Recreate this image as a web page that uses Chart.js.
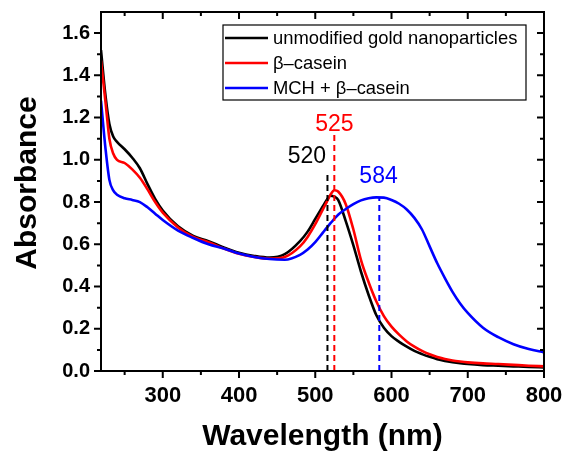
<!DOCTYPE html>
<html>
<head>
<meta charset="utf-8">
<script src="https://cdn.jsdelivr.net/npm/chart.js@4"></script>
<style>
  html, body { margin: 0; padding: 0; background: #fff; }
</style>
</head>
<body>
<canvas id="chart" width="563" height="455"></canvas>
<script>
// UV-vis spectra
const wavelength = [219, 225, 230, 235, 240, 250, 260, 270, 280, 290, 300, 320, 340, 360, 380, 400, 420, 440, 460, 480, 490, 500, 510, 515, 520, 525, 530, 540, 550, 560, 570, 580, 590, 600, 610, 620, 630, 640, 650, 660, 670, 680, 690, 700, 720, 740, 760, 780, 800];
const unmodified = [1.52, 1.30, 1.17, 1.11, 1.085, 1.05, 1.01, 0.96, 0.885, 0.815, 0.76, 0.685, 0.64, 0.615, 0.585, 0.56, 0.545, 0.537, 0.553, 0.615, 0.66, 0.72, 0.78, 0.81, 0.83, 0.826, 0.81, 0.71, 0.595, 0.47, 0.36, 0.265, 0.205, 0.165, 0.138, 0.115, 0.095, 0.08, 0.067, 0.056, 0.048, 0.042, 0.037, 0.033, 0.028, 0.025, 0.022, 0.019, 0.017];
const casein = [1.47, 1.27, 1.10, 1.03, 1.00, 0.985, 0.955, 0.915, 0.86, 0.80, 0.75, 0.68, 0.635, 0.61, 0.58, 0.555, 0.54, 0.532, 0.54, 0.59, 0.635, 0.695, 0.765, 0.80, 0.835, 0.856, 0.85, 0.79, 0.67, 0.525, 0.42, 0.33, 0.26, 0.21, 0.172, 0.14, 0.115, 0.095, 0.079, 0.066, 0.057, 0.05, 0.045, 0.041, 0.036, 0.033, 0.029, 0.025, 0.022];
const mchCasein = [1.28, 1.05, 0.905, 0.855, 0.835, 0.818, 0.81, 0.80, 0.775, 0.745, 0.715, 0.665, 0.63, 0.60, 0.58, 0.556, 0.54, 0.53, 0.527, 0.55, 0.575, 0.61, 0.655, 0.678, 0.70, 0.72, 0.74, 0.767, 0.79, 0.808, 0.818, 0.822, 0.821, 0.81, 0.792, 0.765, 0.725, 0.67, 0.59, 0.51, 0.44, 0.375, 0.32, 0.275, 0.205, 0.16, 0.127, 0.104, 0.088];

const seriesNames = ['unmodified gold nanoparticles', 'β–casein', 'MCH + β–casein'];
const seriesColors = ['#000000', '#ff0000', '#0000ff'];

// peak markers (dashed lines) and their labels
const peakWl = [516, 525, 584];
const peakTop = [0.945, 1.12, 0.82];
const peakText = ['520', '525', '584'];
const peakTextWl = [489, 525, 583];
const peakTextY = [1.015, 1.165, 0.92];

const xTicks = [300, 400, 500, 600, 700, 800];
const yTicks = [0, 0.2, 0.4, 0.6, 0.8, 1.0, 1.2, 1.4, 1.6];

const FONT = '"Liberation Sans", Arial, sans-serif';

const toPoints = ys => wavelength.map((w, i) => ({ x: w, y: ys[i] }));

const curves = [unmodified, casein, mchCasein].map((ys, i) => ({
  label: seriesNames[i],
  data: toPoints(ys),
  borderColor: seriesColors[i],
  borderWidth: 2.6,
  pointRadius: 0,
  cubicInterpolationMode: 'monotone',
  order: 3 - i + 1
}));

const peaks = peakWl.map((w, i) => ({
  label: 'peak ' + peakText[i],
  data: [{ x: w, y: 0 }, { x: w, y: peakTop[i] }],
  borderColor: seriesColors[i],
  borderWidth: 2,
  borderDash: [6, 4],
  pointRadius: 0,
  order: 0
}));

const decorations = {
  id: 'decorations',
  afterDatasetsDraw(chart) {
    const { ctx, chartArea: a, scales: { x, y } } = chart;
    ctx.save();
    ctx.strokeStyle = '#000';
    ctx.lineWidth = 2;
    ctx.strokeRect(a.left, a.top, a.right - a.left, a.bottom - a.top);

    // ticks: outside on left/bottom, inside on top/right
    ctx.beginPath();
    for (let v = 250; v <= 800; v += 50) {
      const px = x.getPixelForValue(v);
      const len = v % 100 === 0 ? 7 : 4;
      ctx.moveTo(px, a.bottom); ctx.lineTo(px, a.bottom + len);
      ctx.moveTo(px, a.top); ctx.lineTo(px, a.top + len);
    }
    for (let i = 0; i <= 16; i++) {
      const py = y.getPixelForValue(i / 10);
      const len = i % 2 === 0 ? 7 : 4;
      ctx.moveTo(a.left, py); ctx.lineTo(a.left - len, py);
      ctx.moveTo(a.right, py); ctx.lineTo(a.right - len, py);
    }
    ctx.stroke();

    // peak labels
    ctx.font = '23px ' + FONT;
    ctx.textAlign = 'center';
    ctx.textBaseline = 'middle';
    peakText.forEach((t, i) => {
      ctx.fillStyle = seriesColors[i];
      ctx.fillText(t, x.getPixelForValue(peakTextWl[i]), y.getPixelForValue(peakTextY[i]));
    });

    // legend box
    const lx = 223, ly = 25, lw = 303, lh = 75;
    ctx.fillStyle = '#fff';
    ctx.fillRect(lx, ly, lw, lh);
    ctx.lineWidth = 1.2;
    ctx.strokeStyle = '#000';
    ctx.strokeRect(lx, ly, lw, lh);
    ctx.font = '18.4px ' + FONT;
    ctx.textAlign = 'left';
    seriesNames.forEach((n, i) => {
      const ry = ly + 13 + i * 25;
      ctx.strokeStyle = seriesColors[i];
      ctx.lineWidth = 2.6;
      ctx.beginPath();
      ctx.moveTo(lx + 2, ry); ctx.lineTo(lx + 45, ry);
      ctx.stroke();
      ctx.fillStyle = '#000';
      ctx.fillText(n, lx + 50, ry + 1);
    });

    // y axis title
    ctx.translate(28, 183);
    ctx.rotate(-Math.PI / 2);
    ctx.font = 'bold 30px ' + FONT;
    ctx.textAlign = 'center';
    ctx.fillStyle = '#000';
    ctx.fillText('Absorbance', 0, 0);
    ctx.restore();
  }
};

new Chart(document.getElementById('chart').getContext('2d'), {
  type: 'line',
  data: { datasets: [...peaks, ...curves] },
  options: {
    responsive: false,
    animation: false,
    layout: { padding: { top: 12, right: 19, left: 0, bottom: 0 } },
    plugins: { legend: { display: false }, tooltip: { enabled: false } },
    scales: {
      x: {
        type: 'linear',
        min: 219,
        max: 800,
        grid: { display: false, drawTicks: false },
        border: { display: false },
        afterBuildTicks: s => { s.ticks = xTicks.map(v => ({ value: v })); },
        afterFit: s => { s.height = 84; s.paddingLeft = 0; s.paddingRight = 0; },
        ticks: {
          padding: 12,
          color: '#000',
          font: { family: FONT, size: 22, weight: 'bold' },
          callback: v => String(v)
        },
        title: {
          display: true,
          text: 'Wavelength (nm)',
          color: '#000',
          font: { family: FONT, size: 30, weight: 'bold' },
          padding: { top: 0, bottom: 0 }
        }
      },
      y: {
        min: 0,
        max: 1.7,
        grid: { display: false, drawTicks: false },
        border: { display: false },
        afterBuildTicks: s => { s.ticks = yTicks.map(v => ({ value: v })); },
        afterFit: s => { s.width = 101; s.paddingTop = 0; s.paddingBottom = 0; },
        ticks: {
          padding: 11,
          color: '#000',
          font: { family: FONT, size: 20, weight: 'bold' },
          callback: v => v.toFixed(1)
        }
      }
    }
  },
  plugins: [decorations]
});
</script>
</body>
</html>
